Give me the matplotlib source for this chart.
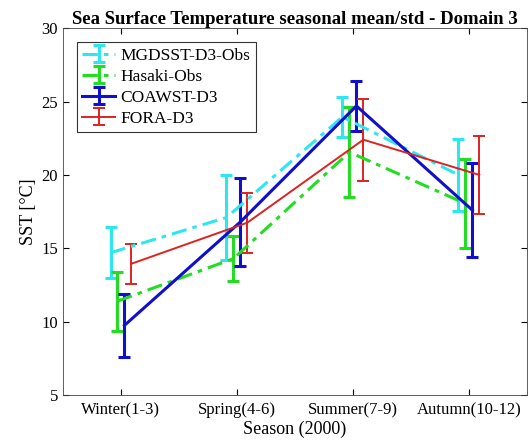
import numpy as np
import matplotlib
matplotlib.use('Agg')
import matplotlib.pyplot as plt

plt.rcParams['font.family'] = ['Liberation Serif', 'DejaVu Serif']

seasons = ['Winter(1-3)', 'Spring(4-6)', 'Summer(7-9)', 'Autumn(10-12)']

mgdsst_mean = [14.7, 17.1, 23.95, 20.0]
mgdsst_std = [1.75, 2.9, 1.35, 2.45]

hasaki_mean = [11.4, 14.3, 21.55, 18.05]
hasaki_std = [2.0, 1.55, 3.05, 3.05]

coawst_mean = [9.75, 16.8, 24.7, 17.6]
coawst_std = [2.15, 3.0, 1.7, 3.2]

fora_mean = [13.95, 16.75, 22.4, 20.0]
fora_std = [1.35, 2.05, 2.8, 2.65]

series = [
    ('MGDSST-D3-Obs', mgdsst_mean, mgdsst_std, '#2ee6f0', (0, (5, 2, 1.5, 2)), 2.2, -0.09),
    ('Hasaki-Obs', hasaki_mean, hasaki_std, '#22dd22', (0, (5, 2, 1.5, 2)), 2.2, -0.03),
    ('COAWST-D3', coawst_mean, coawst_std, '#1010cc', '-', 2.2, 0.03),
    ('FORA-D3', fora_mean, fora_std, '#dd2222', '-', 1.4, 0.09),
]

fig = plt.figure(figsize=(5.29, 4.46), dpi=100)
ax = fig.add_axes([0.119, 0.114, 0.877, 0.823])

x = np.arange(1, len(seasons) + 1)
for name, m, s, c, ls, lw, off in series:
    ax.errorbar(x + off, m, yerr=s, color=c, linestyle=ls, linewidth=lw,
                elinewidth=lw, capsize=4, capthick=lw, label=name)

ax.set_xlim(0.5, 4.5)
ax.set_ylim(5, 30)
ax.set_xticks(x)
ax.set_xticklabels(seasons)
ax.set_yticks([5, 10, 15, 20, 25, 30])
ax.tick_params(direction='in', top=True, right=True, labelsize=12, length=4)
ax.tick_params(axis='x', pad=5)
ax.set_xlabel('Season (2000)', fontsize=13, labelpad=2)
ax.set_ylabel('SST [°C]', fontsize=13, labelpad=3)
ax.set_title('Sea Surface Temperature seasonal mean/std - Domain 3',
             fontsize=13.5, fontweight='bold', pad=3)
for sp in ax.spines.values():
    sp.set_linewidth(0.6)
    sp.set_color('#444444')

leg = ax.legend(loc='upper left', fontsize=12.5, frameon=True, fancybox=False,
                edgecolor='black', handlelength=1.9, borderpad=0.3,
                labelspacing=0.28, handletextpad=0.3,
                bbox_to_anchor=(0.012, 0.985))
leg.get_frame().set_linewidth(0.8)

fig.savefig('out.png', dpi=100)
